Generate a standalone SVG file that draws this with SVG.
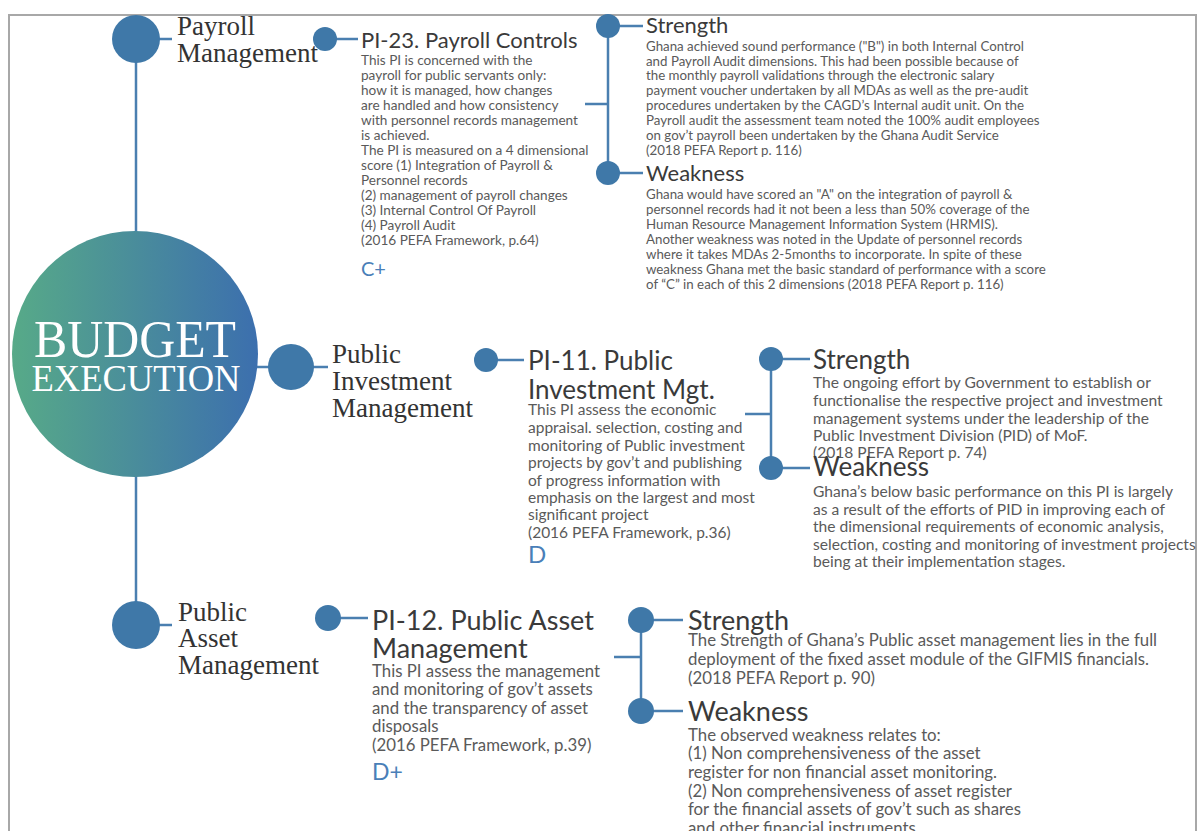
<svg xmlns="http://www.w3.org/2000/svg" width="1198" height="831" viewBox="0 0 1198 831">
<defs>
<linearGradient id="bg" x1="0" y1="0" x2="1" y2="0">
<stop offset="0" stop-color="#57aa88"/>
<stop offset="1" stop-color="#3c6fae"/>
</linearGradient>
<style>
.ln{stroke:#4a7fb0;stroke-width:2.5;fill:none}
.dot{fill:#3f78a8}
.ser{font-family:"Liberation Serif","Times New Roman",serif;fill:#333}
.wh{font-family:"Liberation Serif","Times New Roman",serif;fill:#fff}
.ttl{font-family:Lato,"Liberation Sans",sans-serif;fill:#3a3a3a}
.bd{font-family:Lato,"Liberation Sans",sans-serif;fill:#5a5a5a}
.gr{font-family:Lato,"Liberation Sans",sans-serif;fill:#4a7fb8}
</style>
</defs>
<rect width="1198" height="831" fill="#fff"/>
<path d="M9 831 V15 H1196 V831" fill="none" stroke="#a8a8a8" stroke-width="2"/>

<g id="connectors">
<line class="ln" x1="136" y1="60" x2="136" y2="232"/>
<line class="ln" x1="136" y1="476" x2="136" y2="602"/>
<line class="ln" x1="158" y1="39" x2="172" y2="39"/>
<line class="ln" x1="256" y1="367" x2="270" y2="367"/>
<line class="ln" x1="312" y1="367" x2="328" y2="367"/>
<line class="ln" x1="158" y1="625" x2="172" y2="625"/>
<line class="ln" x1="335" y1="39" x2="358" y2="39"/>
<line class="ln" x1="496" y1="360" x2="524" y2="360"/>
<line class="ln" x1="338" y1="618" x2="368" y2="618"/>
<path class="ln" d="M608 26 V173 M585 104 H608 M608 26 H643 M608 173 H643"/>
<path class="ln" d="M771 359 V468 M745 414 H771 M771 359 H810 M771 468 H810"/>
<path class="ln" d="M641 620 V711 M614 657 H641 M641 620 H683 M641 711 H683"/>
</g>

<g id="budget-execution">
<circle cx="135" cy="354" r="123" fill="url(#bg)"/>
<text class="wh" x="135" y="357" text-anchor="middle" font-size="52" textLength="202" lengthAdjust="spacingAndGlyphs">BUDGET</text>
<text class="wh" x="136" y="391" text-anchor="middle" font-size="37" textLength="209" lengthAdjust="spacingAndGlyphs">EXECUTION</text>
</g>

<g id="payroll-management">
<circle class="dot" cx="136" cy="39" r="24"/>
<text class="ser" x="177" y="35" font-size="27">Payroll</text>
<text class="ser" x="177" y="62" font-size="27">Management</text>
</g>

<g id="public-investment-management">
<circle class="dot" cx="291" cy="367" r="23"/>
<text class="ser" x="332" y="363" font-size="27">Public</text>
<text class="ser" x="332" y="390" font-size="27">Investment</text>
<text class="ser" x="332" y="417" font-size="27">Management</text>
</g>

<g id="public-asset-management">
<circle class="dot" cx="136" cy="625" r="24"/>
<text class="ser" x="178" y="621" font-size="27">Public</text>
<text class="ser" x="178" y="647" font-size="27">Asset</text>
<text class="ser" x="178" y="674" font-size="27">Management</text>
</g>

<g id="pi-23">
<circle class="dot" cx="325" cy="39" r="12"/>
<text class="ttl" x="361" y="48" font-size="22">PI-23. Payroll Controls</text>
<text class="bd" font-size="13.6">
<tspan x="361" y="65">This PI is concerned with the</tspan>
<tspan x="361" y="80">payroll for public servants only:</tspan>
<tspan x="361" y="95">how it is managed, how changes</tspan>
<tspan x="361" y="110">are handled and how consistency</tspan>
<tspan x="361" y="125">with personnel records management</tspan>
<tspan x="361" y="140">is achieved.</tspan>
<tspan x="361" y="155">The PI is measured on a 4 dimensional</tspan>
<tspan x="361" y="170">score (1) Integration of Payroll &amp;</tspan>
<tspan x="361" y="185">Personnel records</tspan>
<tspan x="361" y="200">(2) management of payroll changes</tspan>
<tspan x="361" y="215">(3) Internal Control Of Payroll</tspan>
<tspan x="361" y="230">(4) Payroll Audit</tspan>
<tspan x="361" y="245">(2016 PEFA Framework, p.64)</tspan>
</text>
<text class="gr" x="361" y="276" font-size="20">C+</text>
</g>

<g id="pi-23-strength">
<circle class="dot" cx="608" cy="26" r="12"/>
<text class="ttl" x="646" y="33" font-size="22">Strength</text>
<text class="bd" font-size="13.3">
<tspan x="646" y="51">Ghana achieved sound performance ("B") in both Internal Control</tspan>
<tspan x="646" y="66">and Payroll Audit dimensions. This had been possible because of</tspan>
<tspan x="646" y="80">the monthly payroll validations through the electronic salary</tspan>
<tspan x="646" y="95">payment voucher undertaken by all MDAs as well as the pre-audit</tspan>
<tspan x="646" y="110">procedures undertaken by the CAGD’s Internal audit unit. On the</tspan>
<tspan x="646" y="125">Payroll audit the assessment team noted the 100% audit employees</tspan>
<tspan x="646" y="140">on gov’t payroll been undertaken by the Ghana Audit Service</tspan>
<tspan x="646" y="155">(2018 PEFA Report p. 116)</tspan>
</text>
</g>

<g id="pi-23-weakness">
<circle class="dot" cx="608" cy="173" r="12"/>
<text class="ttl" x="646" y="181" font-size="22">Weakness</text>
<text class="bd" font-size="13.3">
<tspan x="646" y="199">Ghana would have scored an "A" on the integration of payroll &amp;</tspan>
<tspan x="646" y="214">personnel records had it not been a less than 50% coverage of the</tspan>
<tspan x="646" y="229">Human Resource Management Information System (HRMIS).</tspan>
<tspan x="646" y="244">Another weakness was noted in the Update of personnel records</tspan>
<tspan x="646" y="259">where it takes MDAs 2-5months to incorporate. In spite of these</tspan>
<tspan x="646" y="274">weakness Ghana met the basic standard of performance with a score</tspan>
<tspan x="646" y="289">of “C” in each of this 2 dimensions (2018 PEFA Report p. 116)</tspan>
</text>
</g>

<g id="pi-11">
<circle class="dot" cx="486" cy="360" r="12"/>
<text class="ttl" x="528" y="370" font-size="26">PI-11. Public</text>
<text class="ttl" x="528" y="399" font-size="26">Investment Mgt.</text>
<text class="bd" font-size="15.5">
<tspan x="528" y="415">This PI assess the economic</tspan>
<tspan x="528" y="433">appraisal. selection, costing and</tspan>
<tspan x="528" y="451">monitoring of Public investment</tspan>
<tspan x="528" y="468">projects by gov’t and publishing</tspan>
<tspan x="528" y="486">of progress information with</tspan>
<tspan x="528" y="503">emphasis on the largest and most</tspan>
<tspan x="528" y="520">significant project</tspan>
<tspan x="528" y="538">(2016 PEFA Framework, p.36)</tspan>
</text>
<text class="gr" x="528" y="563" font-size="24">D</text>
</g>

<g id="pi-11-strength">
<circle class="dot" cx="771" cy="359" r="12"/>
<text class="ttl" x="813" y="369" font-size="26">Strength</text>
<text class="bd" font-size="15.6">
<tspan x="813" y="388">The ongoing effort by Government to establish or</tspan>
<tspan x="813" y="406">functionalise the respective project and investment</tspan>
<tspan x="813" y="424">management systems under the leadership of the</tspan>
<tspan x="813" y="441">Public Investment Division (PID) of MoF.</tspan>
<tspan x="813" y="458">(2018 PEFA Report p. 74)</tspan>
</text>
</g>

<g id="pi-11-weakness">
<circle class="dot" cx="771" cy="468" r="12"/>
<text class="ttl" x="813" y="476" font-size="26">Weakness</text>
<text class="bd" font-size="15.6">
<tspan x="813" y="497">Ghana’s below basic performance on this PI is largely</tspan>
<tspan x="813" y="515">as a result of the efforts of PID in improving each of</tspan>
<tspan x="813" y="532">the dimensional requirements of economic analysis,</tspan>
<tspan x="813" y="550">selection, costing and monitoring of investment projects</tspan>
<tspan x="813" y="567">being at their implementation stages.</tspan>
</text>
</g>

<g id="pi-12">
<circle class="dot" cx="328" cy="618" r="13"/>
<text class="ttl" x="372" y="630" font-size="27">PI-12. Public Asset</text>
<text class="ttl" x="372" y="658" font-size="27">Management</text>
<text class="bd" font-size="16.8">
<tspan x="372" y="677">This PI assess the management</tspan>
<tspan x="372" y="695">and monitoring of gov’t assets</tspan>
<tspan x="372" y="714">and the transparency of asset</tspan>
<tspan x="372" y="732">disposals</tspan>
<tspan x="372" y="751">(2016 PEFA Framework, p.39)</tspan>
</text>
<text class="gr" x="372" y="780" font-size="23">D+</text>
</g>

<g id="pi-12-strength">
<circle class="dot" cx="641" cy="620" r="13"/>
<text class="ttl" x="688" y="630" font-size="27">Strength</text>
<text class="bd" font-size="16.8">
<tspan x="688" y="646">The Strength of Ghana’s Public asset management lies in the full</tspan>
<tspan x="688" y="665">deployment of the fixed asset module of the GIFMIS financials.</tspan>
<tspan x="688" y="684">(2018 PEFA Report p. 90)</tspan>
</text>
</g>

<g id="pi-12-weakness">
<circle class="dot" cx="641" cy="711" r="13"/>
<text class="ttl" x="688" y="721" font-size="27">Weakness</text>
<text class="bd" font-size="16.8">
<tspan x="688" y="741">The observed weakness relates to:</tspan>
<tspan x="688" y="759">(1) Non comprehensiveness of the asset</tspan>
<tspan x="688" y="778">register for non financial asset monitoring.</tspan>
<tspan x="688" y="797">(2) Non comprehensiveness of asset register</tspan>
<tspan x="688" y="815">for the financial assets of gov’t such as shares</tspan>
<tspan x="688" y="834">and other financial instruments.</tspan>
</text>
</g>
</svg>
